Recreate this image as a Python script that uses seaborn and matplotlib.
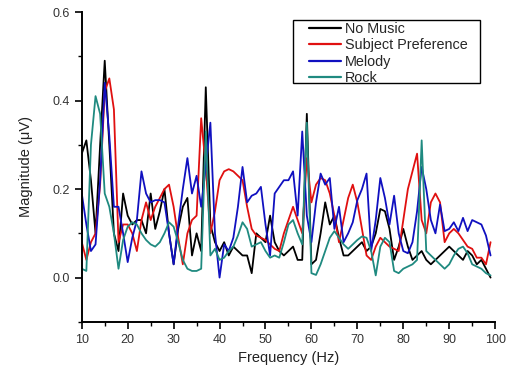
import numpy as np
import pandas as pd
import matplotlib
matplotlib.use("Agg")
import matplotlib.pyplot as plt
from matplotlib.patches import Rectangle
from matplotlib.ticker import MultipleLocator
import seaborn as sns

freq = list(range(10, 100))

no_music = [0.28, 0.31, 0.22, 0.10, 0.30, 0.49, 0.30, 0.10, 0.06, 0.19,
            0.14, 0.12, 0.13, 0.13, 0.10, 0.19, 0.11, 0.15, 0.20, 0.10,
            0.03, 0.11, 0.16, 0.18, 0.05, 0.10, 0.06, 0.43, 0.12, 0.08,
            0.06, 0.08, 0.05, 0.07, 0.06, 0.05, 0.05, 0.01, 0.10, 0.09,
            0.08, 0.14, 0.08, 0.06, 0.05, 0.06, 0.07, 0.04, 0.04, 0.37,
            0.03, 0.04, 0.10, 0.17, 0.12, 0.14, 0.09, 0.05, 0.05, 0.06,
            0.07, 0.08, 0.06, 0.07, 0.10, 0.155, 0.15, 0.11, 0.04, 0.07,
            0.11, 0.07, 0.04, 0.05, 0.06, 0.04, 0.03, 0.04, 0.05, 0.06,
            0.07, 0.06, 0.05, 0.04, 0.06, 0.05, 0.03, 0.04, 0.02, 0.00]

subject_pref = [0.08, 0.04, 0.08, 0.10, 0.21, 0.42, 0.45, 0.38, 0.08, 0.12,
                0.12, 0.10, 0.06, 0.13, 0.17, 0.13, 0.16, 0.18, 0.20, 0.21,
                0.16, 0.09, 0.03, 0.10, 0.13, 0.14, 0.36, 0.25, 0.10, 0.15,
                0.22, 0.24, 0.245, 0.24, 0.23, 0.22, 0.16, 0.11, 0.095, 0.09,
                0.085, 0.075, 0.065, 0.06, 0.10, 0.13, 0.16, 0.13, 0.10, 0.27,
                0.17, 0.21, 0.225, 0.22, 0.19, 0.14, 0.08, 0.13, 0.18, 0.21,
                0.17, 0.11, 0.05, 0.04, 0.07, 0.09, 0.08, 0.07, 0.065, 0.06,
                0.13, 0.20, 0.24, 0.28, 0.13, 0.10, 0.17, 0.19, 0.17, 0.08,
                0.10, 0.11, 0.10, 0.085, 0.07, 0.065, 0.045, 0.045, 0.03, 0.08]

melody = [0.19, 0.12, 0.06, 0.075, 0.22, 0.44, 0.32, 0.16, 0.16, 0.10,
          0.035, 0.09, 0.13, 0.24, 0.19, 0.17, 0.175, 0.175, 0.17, 0.10,
          0.03, 0.12, 0.20, 0.27, 0.19, 0.23, 0.16, 0.25, 0.35, 0.10,
          0.00, 0.075, 0.06, 0.09, 0.16, 0.25, 0.17, 0.185, 0.19, 0.205,
          0.12, 0.05, 0.19, 0.205, 0.22, 0.22, 0.24, 0.14, 0.33, 0.14,
          0.08, 0.17, 0.235, 0.21, 0.225, 0.11, 0.16, 0.08, 0.10, 0.125,
          0.175, 0.20, 0.235, 0.06, 0.13, 0.225, 0.18, 0.12, 0.185, 0.10,
          0.06, 0.055, 0.08, 0.15, 0.25, 0.20, 0.13, 0.10, 0.165, 0.105,
          0.11, 0.125, 0.105, 0.135, 0.105, 0.13, 0.125, 0.12, 0.095, 0.05]

rock = [0.02, 0.015, 0.30, 0.41, 0.37, 0.19, 0.16, 0.10, 0.02, 0.085,
        0.115, 0.125, 0.12, 0.10, 0.085, 0.075, 0.07, 0.08, 0.10, 0.125,
        0.115, 0.08, 0.04, 0.02, 0.015, 0.015, 0.02, 0.33, 0.05, 0.065,
        0.04, 0.045, 0.06, 0.07, 0.095, 0.125, 0.11, 0.07, 0.075, 0.08,
        0.06, 0.045, 0.05, 0.045, 0.08, 0.12, 0.13, 0.10, 0.075, 0.35,
        0.01, 0.006, 0.03, 0.06, 0.09, 0.105, 0.09, 0.075, 0.065, 0.075,
        0.085, 0.093, 0.09, 0.06, 0.005, 0.07, 0.09, 0.08, 0.015, 0.01,
        0.02, 0.025, 0.03, 0.04, 0.31, 0.06, 0.05, 0.04, 0.03, 0.02,
        0.03, 0.05, 0.065, 0.07, 0.055, 0.03, 0.025, 0.02, 0.01, 0.005]

series_names = ["No Music", "Subject Preference", "Melody", "Rock"]
colors = ["#000000", "#e01010", "#1010c0", "#1f8a80"]

df = pd.concat([
    pd.DataFrame({"Frequency": freq, "Magnitude": vals, "Condition": name})
    for name, vals in zip(series_names, [no_music, subject_pref, melody, rock])
])

sns.set_style("ticks")
plt.rcParams["font.family"] = ["Liberation Sans", "DejaVu Sans"]

fig = plt.figure(figsize=(5.11, 3.76), dpi=100)
ax = fig.add_axes([0.160, 0.144, 0.809, 0.824])

sns.lineplot(data=df, x="Frequency", y="Magnitude", hue="Condition",
             hue_order=series_names, palette=colors, linewidth=1.3, ax=ax)

ax.set_xlim(10, 100)
ax.set_ylim(-0.1, 0.6)
ax.xaxis.set_major_locator(MultipleLocator(10))
ax.xaxis.set_minor_locator(MultipleLocator(5))
ax.yaxis.set_minor_locator(MultipleLocator(0.1))
ax.set_yticks([0.0, 0.2, 0.4, 0.6])
ax.set_yticklabels(["0.0", "0.2", "0.4", "0.6"])
ax.tick_params(which="major", direction="out", length=5, width=1.2,
               labelsize=9, labelcolor="#333333", color="black")
ax.tick_params(which="minor", direction="out", length=3, width=1.0, color="black")
for side in ["left", "bottom"]:
    ax.spines[side].set_linewidth(1.4)
    ax.spines[side].set_color("black")
sns.despine(ax=ax)

ax.set_xlabel("Frequency (Hz)", fontsize=10.5, color="#222222")
ax.set_ylabel("Magnitude (\u03bcV)", fontsize=10.5, color="#222222", labelpad=14)

# legend box drawn separately so the padding can be wider left/right
ax.add_patch(Rectangle((0.511, 0.771), 0.453, 0.203, transform=ax.transAxes,
                       facecolor="white", edgecolor="black", linewidth=1.0,
                       zorder=4))
leg = ax.legend(loc="upper left", bbox_to_anchor=(0.545, 0.974), fontsize=10.4,
                frameon=False, handlelength=2.2, labelspacing=0.15,
                borderpad=0.15, handletextpad=0.3, borderaxespad=0)
leg.set_zorder(5)
for line in leg.get_lines():
    line.set_linewidth(1.6)

fig.savefig("out.png", dpi=100)
